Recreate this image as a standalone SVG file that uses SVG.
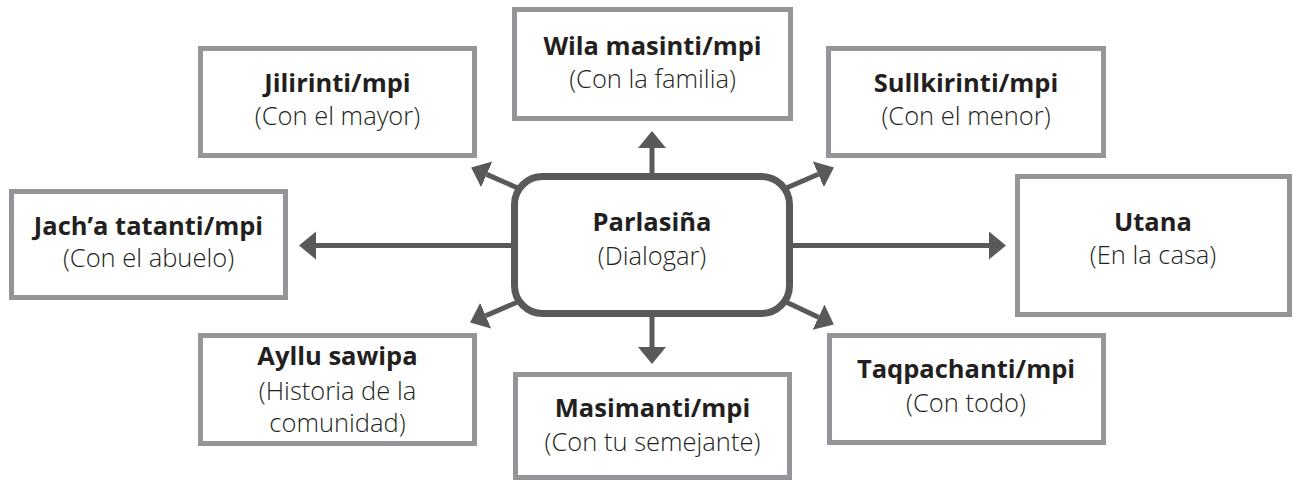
<svg xmlns="http://www.w3.org/2000/svg" width="1295" height="480" viewBox="0 0 1295 480">
<style>
.box{fill:#fff;stroke:#939598;stroke-width:5}
.hub{fill:#fff;stroke:#58595b;stroke-width:7}
.t{font-family:"Open Sans","Noto Sans","Liberation Sans",sans-serif;font-size:25.5px;fill:#231f20;text-anchor:middle}
.b{font-weight:700}
.r{font-weight:300}
.c{stroke:#58595b;stroke-width:5;fill:none}
</style>
<defs>
<marker id="ah" markerUnits="userSpaceOnUse" markerWidth="18" markerHeight="30" refX="0" refY="14" orient="auto">
<path d="M0,0 L17,14 L0,28 Z" fill="#58595b"/>
</marker>
</defs>
<g id="connectors">
<line class="c" x1="514" y1="245.5" x2="316" y2="245.5" marker-end="url(#ah)"/>
<line class="c" x1="790" y1="245.5" x2="989" y2="245.5" marker-end="url(#ah)"/>
<line class="c" x1="652" y1="176" x2="652" y2="148" marker-end="url(#ah)"/>
<line class="c" x1="652" y1="314" x2="652" y2="347" marker-end="url(#ah)"/>
<line class="c" x1="520" y1="189" x2="486.7" y2="174.4" marker-end="url(#ah)"/>
<line class="c" x1="784" y1="189" x2="818.3" y2="174.3" marker-end="url(#ah)"/>
<line class="c" x1="520" y1="301" x2="485.7" y2="315.7" marker-end="url(#ah)"/>
<line class="c" x1="784" y1="301" x2="818.5" y2="317.2" marker-end="url(#ah)"/>
</g>
<g id="hub">
<rect class="hub" x="514.5" y="176.5" width="275" height="137" rx="28"/>
<text class="t b" x="652" y="231">Parlasiña</text>
<text class="t r" x="652" y="265">(Dialogar)</text>
</g>
<g id="jilirinti">
<rect class="box" x="200.5" y="48.5" width="274" height="107"/>
<text class="t b" x="337.5" y="92">Jilirinti/mpi</text>
<text class="t r" x="337.5" y="125">(Con el mayor)</text>
</g>
<g id="wila">
<rect class="box" x="514.5" y="9.5" width="276" height="109"/>
<text class="t b" x="652.5" y="55">Wila masinti/mpi</text>
<text class="t r" x="652.5" y="88">(Con la familia)</text>
</g>
<g id="sullkirinti">
<rect class="box" x="828.5" y="48.5" width="275" height="107"/>
<text class="t b" x="966" y="92">Sullkirinti/mpi</text>
<text class="t r" x="966" y="125">(Con el menor)</text>
</g>
<g id="jacha">
<rect class="box" x="11.5" y="191.5" width="274" height="106"/>
<text class="t b" x="148.5" y="235">Jach’a tatanti/mpi</text>
<text class="t r" x="148.5" y="267">(Con el abuelo)</text>
</g>
<g id="utana">
<rect class="box" x="1017.5" y="176.5" width="272" height="138"/>
<text class="t b" x="1153" y="231">Utana</text>
<text class="t r" x="1153" y="264">(En la casa)</text>
</g>
<g id="ayllu">
<rect class="box" x="200.5" y="335.5" width="274" height="108"/>
<text class="t b" x="337.5" y="365">Ayllu sawipa</text>
<text class="t r" x="337.5" y="400">(Historia de la</text>
<text class="t r" x="337.5" y="432">comunidad)</text>
</g>
<g id="masimanti">
<rect class="box" x="515.5" y="374.5" width="274" height="103"/>
<text class="t b" x="652.5" y="417">Masimanti/mpi</text>
<text class="t r" x="652.5" y="451">(Con tu semejante)</text>
</g>
<g id="taqpachanti">
<rect class="box" x="829.5" y="335.5" width="274" height="107"/>
<text class="t b" x="966" y="378">Taqpachanti/mpi</text>
<text class="t r" x="966" y="412">(Con todo)</text>
</g>
</svg>
